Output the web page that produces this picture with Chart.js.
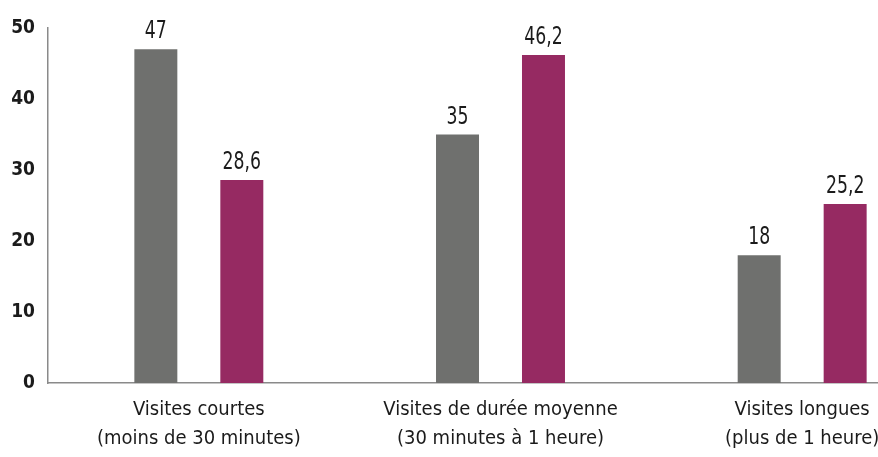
<!DOCTYPE html>
<html lang="fr">

<head>
  <meta charset="UTF-8">
  <title>Visites</title>
  <style>
    html, body { margin: 0; padding: 0; background: #fff; overflow: hidden; }
    #wrap { position: relative; width: 953px; height: 457px; }
  </style>
</head>

<body>
  <div id="wrap"><canvas id="bargraph"></canvas></div>

  <script src="https://cdn.jsdelivr.net/npm/chart.js"></script>
  <script>
    // data
    const categories = [
      ["Visites courtes", "(moins de 30 minutes)"],
      ["Visites de durée moyenne", "(30 minutes à 1 heure)"],
      ["Visites longues", "(plus de 1 heure)"]
    ];
    const seriesGray = [47, 35, 18];
    const seriesPurple = [28.6, 46.2, 25.2];
    const yTicks = [0, 10, 20, 30, 40, 50];

    const FONT = "'Liberation Sans Narrow', 'Arial Narrow', 'DejaVu Sans Condensed', sans-serif";

    // draw the value above each bar, french decimal comma, squeezed a bit
    const valueLabels = {
      id: "valueLabels",
      afterDatasetsDraw(chart) {
        const ctx = chart.ctx;
        chart.data.datasets.forEach((ds, i) => {
          chart.getDatasetMeta(i).data.forEach((bar, j) => {
            const txt = String(ds.data[j]).replace(".", ",");
            ctx.save();
            ctx.font = "24px " + FONT;
            ctx.fillStyle = "#1b1b1b";
            ctx.textAlign = "center";
            ctx.textBaseline = "alphabetic";
            ctx.translate(bar.x, bar.y - 11);
            ctx.scale(0.8, 1);
            ctx.fillText(txt, 0, 0);
            ctx.restore();
          });
        });
      }
    };

    new Chart(document.getElementById("bargraph"), {
      type: "bar",
      data: {
        labels: categories,
        datasets: [{
          data: seriesGray,
          backgroundColor: "#6f706e"
        }, {
          data: seriesPurple,
          backgroundColor: "#962a62"
        }]
      },
      options: {
        responsive: true,
        maintainAspectRatio: false,
        animation: false,
        layout: { padding: { top: 28, right: 0, bottom: 0, left: 0 } },
        plugins: {
          legend: { display: false },
          tooltip: { enabled: false }
        },
        datasets: {
          bar: { categoryPercentage: 0.57, barPercentage: 0.5 }
        },
        scales: {
          x: {
            grid: { display: false, drawTicks: false },
            border: { display: true, color: "#8a8a8a", width: 1.5 },
            ticks: {
              color: "#1b1b1b",
              font: { family: FONT, size: 20, lineHeight: 1.45 },
              padding: 12,
              labelOffset: 0,
              maxRotation: 0,
              autoSkip: false
            },
            afterFit: scale => { scale.height = 74; }
          },
          y: {
            min: 0,
            max: 50,
            grid: { display: false, drawTicks: false },
            border: { display: true, color: "#8a8a8a", width: 1.5 },
            afterBuildTicks: axis => { axis.ticks = yTicks.map(v => ({ value: v })); },
            ticks: {
              color: "#1b1b1b",
              font: { family: FONT, size: 19, weight: "bold" },
              padding: 13
            },
            afterFit: scale => { scale.width = 48; }
          }
        }
      },
      plugins: [valueLabels]
    });
  </script>
</body>

</html>
